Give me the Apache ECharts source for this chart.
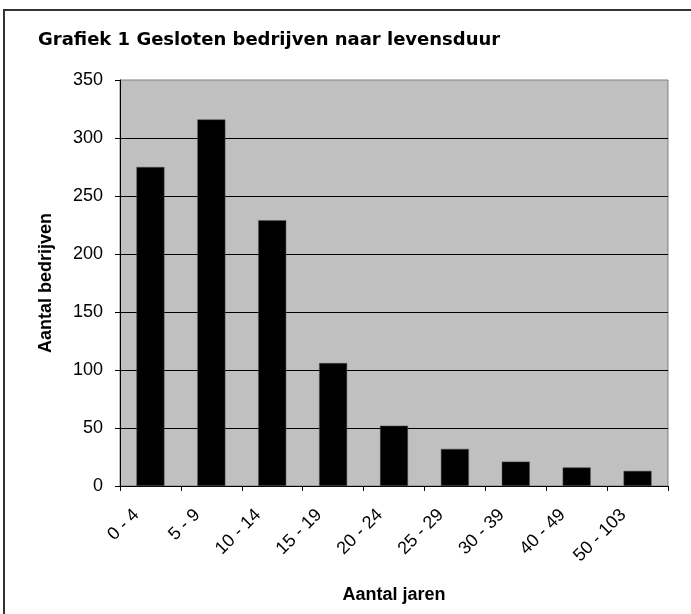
<!DOCTYPE html>
<html>
<head>
<meta charset="utf-8">
<script src="https://cdn.jsdelivr.net/npm/echarts@6/dist/echarts.min.js"></script>
<style>
  html, body { margin: 0; padding: 0; background: #fff; }
  #chart { width: 691px; height: 614px; }
</style>
</head>
<body>
<div id="chart"></div>
<script>
  // categorieën en waarden
  var categories = ['0 - 4', '5 - 9', '10 - 14', '15 - 19', '20 - 24', '25 - 29', '30 - 39', '40 - 49', '50 - 103'];
  var bedrijven = [275, 316, 229, 106, 52, 32, 21, 16, 13];
  var yTicks = [0, 50, 100, 150, 200, 250, 300, 350];

  var chart = echarts.init(document.getElementById('chart'));
  var fontFamily = 'Liberation Sans, Arial, sans-serif';

  chart.setOption({
    animation: false,
    backgroundColor: '#fff',
    textStyle: {fontFamily: fontFamily},
    title: {
      text: 'Grafiek 1 Gesloten bedrijven naar levensduur',
      left: 33,
      top: 26,
      // breder lettertype: de titel in het origineel heeft extra letterafstand
      textStyle: {fontSize: 18, fontWeight: 'bold', color: '#000', fontFamily: 'DejaVu Sans, sans-serif'}
    },
    graphic: [{
      type: 'rect',
      shape: {x: 4, y: 10, width: 720, height: 640},
      style: {fill: 'none', stroke: '#333', lineWidth: 2},
      silent: true
    }],
    grid: {
      left: 120,
      right: 23,
      top: 80,
      bottom: 128,
      show: true,
      backgroundColor: '#C0C0C0',
      borderColor: '#808080',
      borderWidth: 1
    },
    xAxis: {
      type: 'category',
      data: categories,
      name: 'Aantal jaren',
      nameLocation: 'middle',
      nameGap: 100,
      nameTextStyle: {fontSize: 18, fontWeight: 'bold', color: '#000'},
      axisLine: {lineStyle: {color: '#000', width: 1}},
      axisTick: {show: true, length: 5, alignWithLabel: false, lineStyle: {color: '#000'}},
      axisLabel: {interval: 0, rotate: 45, fontSize: 18, color: '#000', margin: 12, padding: [0, 20, 0, 0]}
    },
    yAxis: {
      type: 'value',
      min: yTicks[0],
      max: yTicks[yTicks.length - 1],
      interval: 50,
      name: 'Aantal bedrijven',
      nameLocation: 'middle',
      nameGap: 65,
      nameTextStyle: {fontSize: 18, fontWeight: 'bold', color: '#000'},
      axisLine: {show: true, lineStyle: {color: '#000', width: 1}},
      axisTick: {show: true, length: 5, lineStyle: {color: '#000'}},
      axisLabel: {fontSize: 18, color: '#000', margin: 17},
      splitLine: {show: true, showMaxLine: false, lineStyle: {color: '#000', width: 1}}
    },
    series: [{
      type: 'bar',
      data: bedrijven,
      barWidth: '46%',
      itemStyle: {color: '#000', borderColor: '#555', borderWidth: 0.5}
    }]
  });
</script>
</body>
</html>
